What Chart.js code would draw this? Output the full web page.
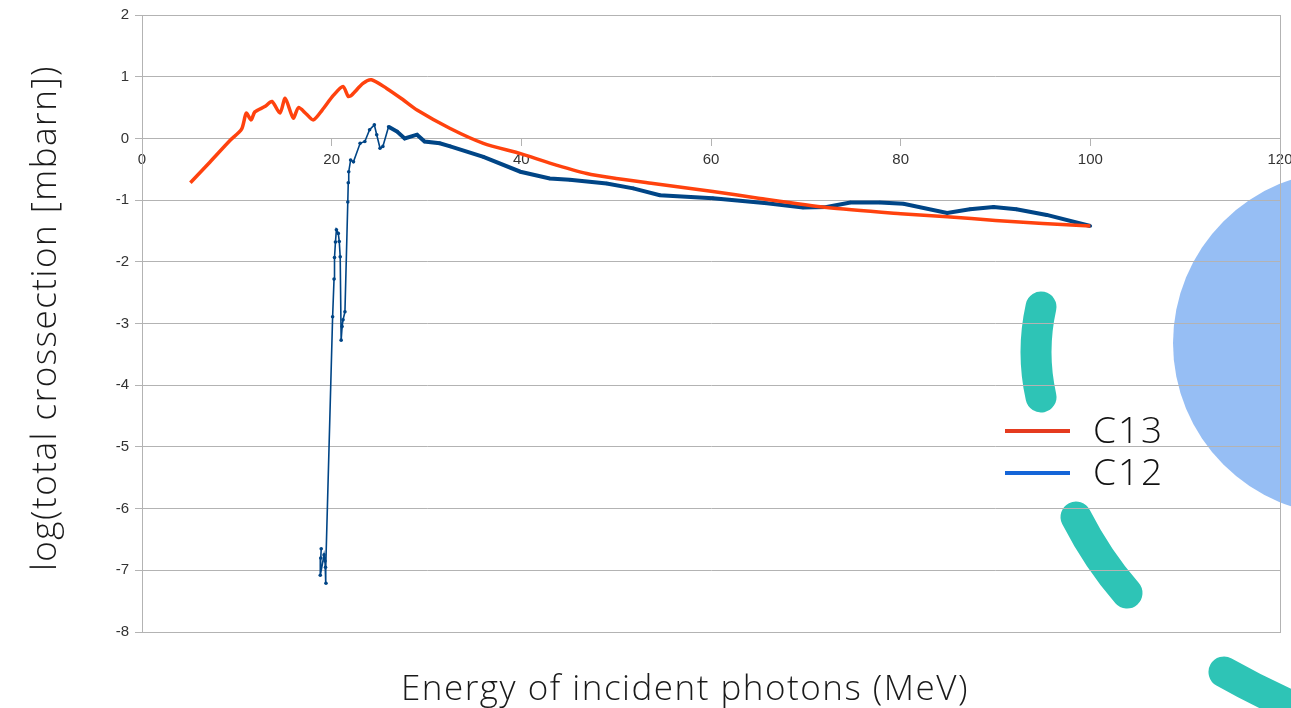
<!DOCTYPE html>
<html>
<head>
<meta charset="utf-8">
<script src="https://cdn.jsdelivr.net/npm/chart.js@4.4.0/dist/chart.umd.min.js"></script>
<style>
  html, body { margin: 0; padding: 0; background: #fff; }
  #wrap { width: 1291px; height: 708px; position: relative; }
</style>
</head>
<body>
<div id="wrap"><canvas id="xsChart"></canvas></div>
<script>
// C13 curve (energy in MeV, log of cross section)
const c13Energy = [5.1, 7, 9.3, 10.5, 11, 11.5, 11.9, 13, 13.7, 14.55, 15.1, 15.95, 16.5, 17.3, 18.06, 19, 20.2, 21.2, 21.75, 22.1, 23.3, 24.2, 25.8, 27.5, 29, 32.5, 36, 40, 43, 46.9, 50, 53.9, 60.2, 65, 72.2, 80, 84.9, 90, 95, 100];
const c13Log = [-0.72, -0.41, -0.03, 0.15, 0.41, 0.30, 0.43, 0.52, 0.60, 0.41, 0.65, 0.33, 0.50, 0.40, 0.30, 0.46, 0.70, 0.84, 0.68, 0.70, 0.89, 0.95, 0.81, 0.63, 0.46, 0.16, -0.08, -0.25, -0.40, -0.57, -0.65, -0.73, -0.86, -0.97, -1.12, -1.22, -1.27, -1.33, -1.38, -1.42];

// C12 curve
const c12Energy = [18.9, 18.85, 18.8, 19.2, 19.3, 19.4, 19.35, 20.1, 20.25, 20.3, 20.4, 20.5, 20.7, 20.8, 20.9, 21.0, 21.1, 21.2, 21.4, 21.7, 21.75, 21.8, 22.0, 22.3, 23.0, 23.5, 24.0, 24.5, 24.75, 25.1, 25.4, 26.0, 26.9, 27.7, 29.0, 29.8, 31.4, 32.5, 36, 39.9, 43, 45.1, 49, 51.8, 54.6, 60.2, 65.9, 69.7, 72.2, 74.7, 77.8, 80.3, 84.9, 87.3, 89.8, 92.2, 95.4, 100];
const c12Log = [-6.65, -6.8, -7.08, -6.75, -6.85, -7.21, -6.95, -2.89, -2.28, -1.93, -1.68, -1.48, -1.54, -1.67, -1.92, -3.27, -3.05, -2.94, -2.81, -1.03, -0.72, -0.54, -0.35, -0.38, -0.08, -0.05, 0.14, 0.22, 0.06, -0.16, -0.13, 0.19, 0.11, 0.0, 0.06, -0.05, -0.08, -0.13, -0.30, -0.54, -0.65, -0.67, -0.73, -0.81, -0.92, -0.97, -1.05, -1.12, -1.11, -1.04, -1.04, -1.06, -1.21, -1.15, -1.11, -1.15, -1.24, -1.42];

const seriesNames = ['C13', 'C12'];
const xTitle = 'Energy of incident photons (MeV)';
const yTitle = 'log(total crossection [mbarn])';

const toPoints = (xs, ys) => xs.map((x, i) => ({ x: x, y: ys[i] }));

// slide decorations + titles + legend
const slideDeco = {
  id: 'slideDeco',
  beforeDraw(chart) {
    const ctx = chart.ctx;
    ctx.save();
    ctx.fillStyle = '#96bef4';
    ctx.beginPath();
    ctx.arc(1345, 343, 172, 0, Math.PI * 2);
    ctx.fill();

    ctx.strokeStyle = '#2ec4b6';
    ctx.lineWidth = 31;
    ctx.lineCap = 'round';
    ctx.beginPath();
    ctx.moveTo(1041, 307);
    ctx.quadraticCurveTo(1031, 352, 1041, 397);
    ctx.stroke();
    ctx.beginPath();
    ctx.moveTo(1076, 517);
    ctx.quadraticCurveTo(1098, 560, 1127, 593);
    ctx.stroke();
    ctx.beginPath();
    ctx.moveTo(1224, 672);
    ctx.quadraticCurveTo(1270, 698, 1320, 718);
    ctx.stroke();
    ctx.restore();
  },
  beforeDatasetsDraw(chart) {
    const a = chart.chartArea;
    const ctx = chart.ctx;
    ctx.save();
    ctx.strokeStyle = '#b3b3b3';
    ctx.lineWidth = 1;
    ctx.strokeRect(a.left + 0.5, a.top + 0.5, a.right - a.left, a.bottom - a.top);
    ctx.restore();
  },
  afterDraw(chart) {
    const ctx = chart.ctx;
    ctx.save();
    ctx.fillStyle = '#1a1a1a';
    ctx.font = '300 35px "Open Sans"';
    ctx.letterSpacing = '1.5px';
    ctx.textAlign = 'center';
    ctx.textBaseline = 'alphabetic';
    ctx.fillText(xTitle, 685, 700);

    ctx.translate(56, 318);
    ctx.rotate(-Math.PI / 2);
    ctx.fillText(yTitle, 0, 0);
    ctx.restore();

    // legend
    ctx.save();
    const legendColors = ['#e53b1f', '#1565d8'];
    const rows = [431, 473];
    ctx.font = '300 37px "Open Sans"';
    ctx.letterSpacing = '2px';
    ctx.textAlign = 'left';
    ctx.textBaseline = 'middle';
    seriesNames.forEach((name, i) => {
      ctx.strokeStyle = legendColors[i];
      ctx.lineWidth = 4;
      ctx.beginPath();
      ctx.moveTo(1005, rows[i]);
      ctx.lineTo(1070, rows[i]);
      ctx.stroke();
      ctx.fillStyle = '#111';
      ctx.fillText(name, 1093, rows[i] + 1);
    });
    ctx.restore();
  }
};

const chart = new Chart(document.getElementById('xsChart'), {
  type: 'line',
  data: {
    datasets: [{
      label: seriesNames[0],
      data: toPoints(c13Energy, c13Log),
      borderColor: '#ff420e',
      borderWidth: 3.5,
      pointRadius: 0,
      tension: 0.25
    }, {
      label: seriesNames[1],
      data: toPoints(c12Energy, c12Log),
      borderColor: '#004586',
      backgroundColor: '#004586',
      borderWidth: 4,
      pointRadius: 1.8,
      pointBorderWidth: 0,
      tension: 0,
      segment: {
        borderWidth: c => Math.abs(c.p1.parsed.x - c.p0.parsed.x) < 0.8 ? 1.6 : 4
      }
    }]
  },
  options: {
    responsive: true,
    maintainAspectRatio: false,
    animation: false,
    layout: { padding: { left: 0, right: 11, top: 15, bottom: 76 } },
    plugins: { legend: { display: false }, tooltip: { enabled: false } },
    scales: {
      x: {
        type: 'linear',
        position: { y: 0 },
        min: 0,
        max: 120,
        ticks: { stepSize: 20, color: '#333', font: { family: 'Liberation Sans', size: 15 }, padding: 5, maxRotation: 0 },
        grid: { drawOnChartArea: false, drawTicks: true, tickLength: 7, color: '#b3b3b3' },
        border: { color: '#b3b3b3' },
        afterFit: s => { s.paddingLeft = 0; s.paddingRight = 0; }
      },
      y: {
        min: -8,
        max: 2,
        ticks: { stepSize: 1, color: '#333', font: { family: 'Liberation Sans', size: 15 }, padding: 6 },
        grid: { color: '#b3b3b3', tickLength: 7 },
        border: { color: '#b3b3b3' },
        afterFit: s => { s.width = 142; }
      }
    }
  },
  plugins: [slideDeco]
});
</script>
</body>
</html>
